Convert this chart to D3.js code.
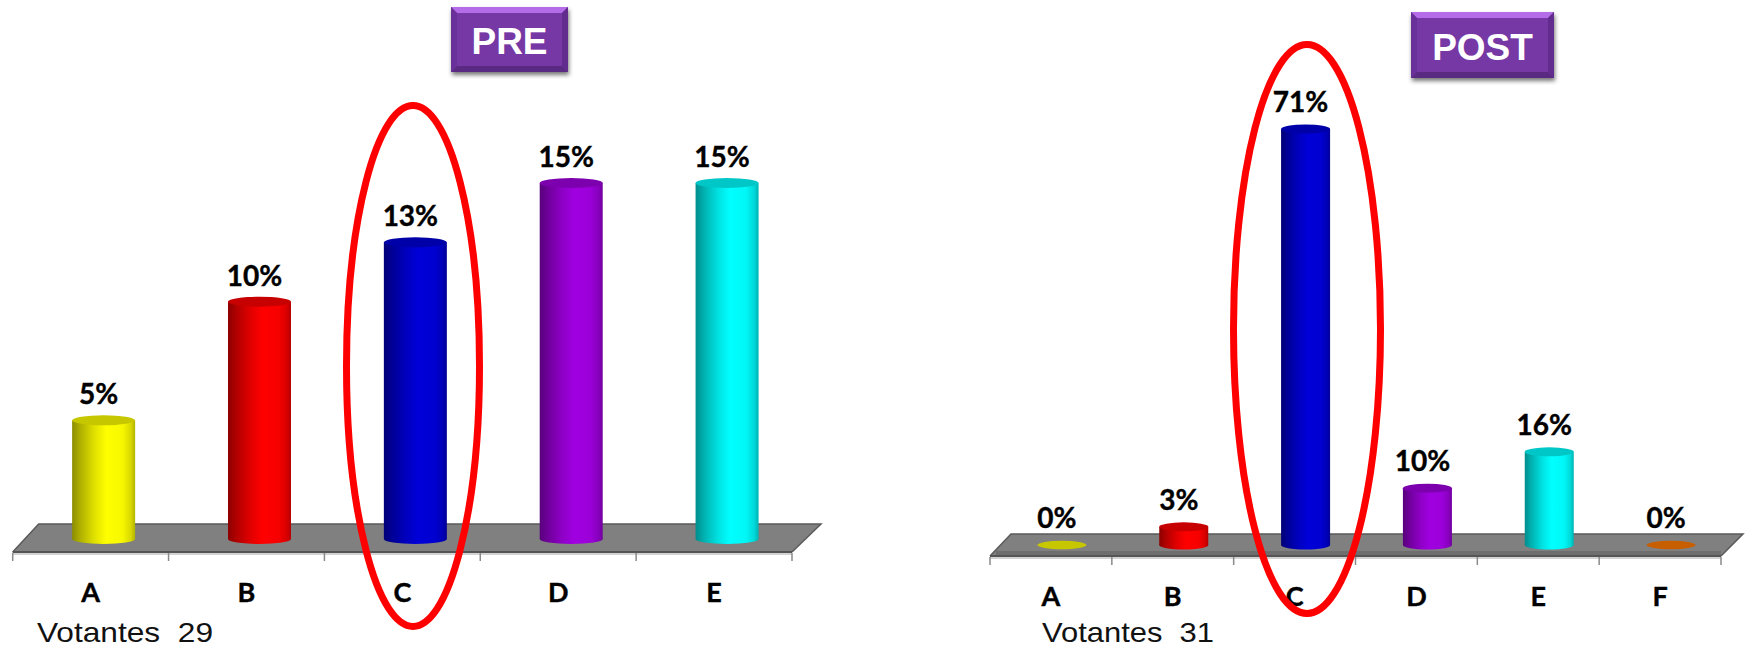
<!DOCTYPE html>
<html><head><meta charset="utf-8">
<script src="https://cdn.jsdelivr.net/npm/d3@7/dist/d3.min.js"></script>
<style>html,body{margin:0;padding:0;background:#fff}svg{display:block}</style>
</head><body><div id="chart"></div>
<script>
const preCategories = ["A","B","C","D","E"];
const preValues = [5, 10, 12.5, 15, 15];
const preColors = ["#ffff00","#ff0000","#0000d8","#a000e0","#00ffff"];
const preTitle = "PRE";
const preVoters = "Votantes  29";

const postCategories = ["A","B","C","D","E","F"];
const postValues = [0, 3.1, 71, 9.7, 15.9, 0];
const postColors = ["#ffff00","#ff0000","#0000d8","#a000e0","#00ffff","#ff7a00"];
const postTitle = "POST";
const postVoters = "Votantes  31";

const W = 1746, H = 648;
const svg = d3.select("#chart").append("svg").attr("width", W).attr("height", H);
const defs = svg.append("defs");

const shadow = defs.append("filter").attr("id","sh").attr("x","-10%").attr("y","-10%").attr("width","120%").attr("height","130%");
shadow.append("feGaussianBlur").attr("stdDeviation",2);

function cylGrad(color){
  const id = "g" + color.slice(1);
  if(!defs.select("#"+id).empty()) return "url(#"+id+")";
  const c = d3.rgb(color);
  const g = defs.append("linearGradient").attr("id",id);
  [[0,.55],[.12,.68],[.35,.88],[.55,1],[.8,.97],[.93,.85],[1,.7]].forEach(([o,k])=>{
    g.append("stop").attr("offset",o).attr("stop-color",d3.rgb(c.r*k,c.g*k,c.b*k));
  });
  return "url(#"+id+")";
}

function drawChart(o){
  const x = d3.scaleBand().domain(o.cats).range([o.left,o.right]);
  const y = d3.scaleLinear().domain(o.domain).range([o.base,o.top]);
  const g = svg.append("g");

  // floor
  g.append("path")
    .attr("d",`M${o.left},${o.front}L${o.left+o.skewL},${o.back}L${o.right+o.skewR},${o.back}L${o.right},${o.front}Z`)
    .attr("fill","#808080");
  if(o.band) g.append("rect").attr("x",o.left+6).attr("y",o.front-5).attr("width",o.right-o.left-6).attr("height",5).attr("fill","#6e6e6e");
  g.append("path")
    .attr("d",`M${o.left},${o.front}L${o.left+o.skewL},${o.back}L${o.right+o.skewR},${o.back}L${o.right},${o.front}`)
    .attr("fill","none").attr("stroke","#5a5a5a").attr("stroke-width",1.5);
  g.append("line").attr("x1",o.left).attr("x2",o.right).attr("y1",o.front).attr("y2",o.front).attr("stroke","#555").attr("stroke-width",2);
  g.append("line").attr("x1",o.left).attr("x2",o.right).attr("y1",o.front+2).attr("y2",o.front+2).attr("stroke","#c4c4c4").attr("stroke-width",1.5);

  // ticks at band edges
  const edges = o.cats.map(c=>x(c)).concat([o.right]);
  g.selectAll("line.t").data(edges).join("line").attr("class","t")
    .attr("x1",d=>d).attr("x2",d=>d).attr("y1",o.front+1).attr("y2",o.front+9)
    .attr("stroke","#8a8a8a").attr("stroke-width",1.5);

  // category labels through the axis
  const ax = g.append("g").attr("transform",`translate(0,${o.labelY})`)
    .call(d3.axisBottom(x).tickSize(0).tickPadding(0));
  ax.select(".domain").remove();
  ax.selectAll("text").attr("y",0).attr("dy",0)
    .attr("font-family","Lato").attr("font-weight",700).attr("font-size",27).attr("fill","#000")
    .attr("stroke","#000").attr("stroke-width",0.4);

  // cylinders
  const cx = d => x(d.c)+x.bandwidth()/2+o.barOff;
  const data = o.cats.map((c,i)=>({c,v:o.vals[i],col:o.cols[i]}));
  const bars = g.selectAll("g.bar").data(data).join("g").attr("class","bar");
  bars.filter(d=>d.v>0).append("ellipse")
    .attr("cx",cx).attr("cy",o.base).attr("rx",o.bw/2).attr("ry",o.ry).attr("fill",d=>cylGrad(d.col));
  bars.filter(d=>d.v>0).append("rect")
    .attr("x",d=>cx(d)-o.bw/2).attr("width",o.bw)
    .attr("y",d=>y(d.v)).attr("height",d=>o.base-y(d.v)).attr("fill",d=>cylGrad(d.col));
  bars.append("ellipse")
    .attr("cx",cx).attr("cy",d=>y(d.v)).attr("rx",o.bw/2)
    .attr("ry",d=>d.v>0?o.ry:4.2)
    .attr("fill",d=>{const c=d3.rgb(d.col);return d3.rgb(c.r*.78,c.g*.78,c.b*.78);});

  // value labels
  g.selectAll("text.v").data(data).join("text").attr("class","v")
    .attr("x",d=>cx(d)-5).attr("y",d=>y(d.v)-o.labelGap)
    .attr("text-anchor","middle").attr("font-family","Lato").attr("font-weight",700)
    .attr("font-size",28).attr("fill","#000").attr("stroke","#000").attr("stroke-width",0.4)
    .text(d=>d3.format(".0f")(d.v)+"%");

  // voters
  g.append("text").attr("x",o.votX).attr("y",o.votY).attr("font-family","Liberation Sans").attr("font-size",28)
    .attr("textLength",o.votW).attr("lengthAdjust","spacingAndGlyphs")
    .attr("fill","#111").style("white-space","pre").text(o.voters);

  // title button
  const b = o.btn, bv = 6, r = b.x+b.w, s = b.y+b.h;
  g.append("rect").attr("x",b.x+1).attr("y",b.y+3).attr("width",b.w).attr("height",b.h).attr("fill","#777").attr("filter","url(#sh)");
  g.append("rect").attr("x",b.x).attr("y",b.y).attr("width",b.w).attr("height",b.h).attr("fill","#7638a4");
  const poly = (p,f)=>g.append("polygon").attr("points",p.map(q=>q.join(",")).join(" ")).attr("fill",f);
  poly([[b.x,b.y],[r,b.y],[r-bv,b.y+bv],[b.x+bv,b.y+bv]],"#b46ce8");
  poly([[b.x,b.y],[b.x+bv,b.y+bv],[b.x+bv,s-bv],[b.x,s]],"#6a309a");
  poly([[r,b.y],[r-bv,b.y+bv],[r-bv,s-bv],[r,s]],"#622c8e");
  poly([[b.x,s],[b.x+bv,s-bv],[r-bv,s-bv],[r,s]],"#5a2a82");
  g.append("text").attr("x",b.x+b.w/2).attr("y",b.base).attr("text-anchor","middle")
    .attr("font-family","Liberation Sans").attr("font-weight",700).attr("font-size",37).attr("fill","#fff").text(o.title);

  // highlight ring
  g.append("ellipse").attr("cx",o.ring[0]).attr("cy",o.ring[1]).attr("rx",o.ring[2]).attr("ry",o.ring[3])
    .attr("fill","none").attr("stroke","#ff0000").attr("stroke-width",7);
}

drawChart({cats:preCategories,vals:preValues,cols:preColors,title:preTitle,voters:preVoters,
  left:12.7,right:792,front:552,back:524,skewL:26,skewR:29,labelY:602,
  domain:[0,15],base:539,top:183,bw:63,ry:5,barOff:13,labelGap:16,
  votX:37,votY:641.5,votW:176,btn:{x:451,y:7,w:117,h:65,base:54},ring:[413,366,66.5,260.5]});

drawChart({cats:postCategories,vals:postValues,cols:postColors,title:postTitle,voters:postVoters,
  left:990,right:1721,front:556,back:534,skewL:21,skewR:22,labelY:606,band:true,
  domain:[0,71],base:545,top:129,bw:49,ry:4.5,barOff:11,labelGap:17,
  votX:1042,votY:641.5,votW:172,btn:{x:1411,y:12,w:143,h:66,base:60},ring:[1307,329,73.5,284.5]});
</script></body></html>
